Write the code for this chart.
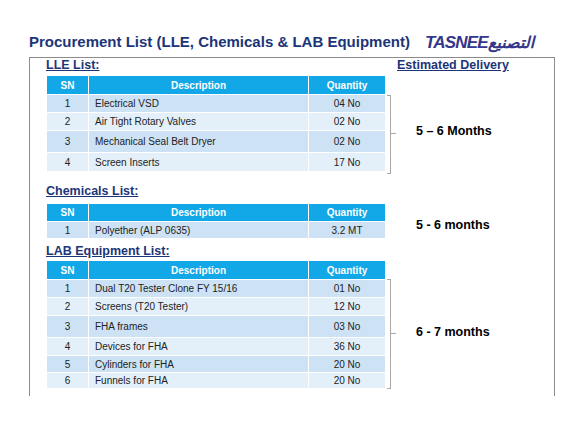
<!DOCTYPE html>
<html><head><meta charset="utf-8">
<script src="https://cdn.jsdelivr.net/npm/chart.js@4"></script>
<style>
body{margin:0;width:587px;height:427px;background:#fff;font-family:"Liberation Sans",Arial,sans-serif;position:relative;overflow:hidden}
.a{position:absolute;white-space:nowrap}
.title{left:29px;top:33px;font-size:15px;font-weight:bold;color:#1c3578}
.logo{left:425px;top:33px;font-size:17px;font-weight:bold;font-style:italic;color:#35358a;letter-spacing:-0.8px}
.frame{left:29px;top:57px;width:524px;height:338px;border:1.5px solid #8c8c8c;border-bottom:none}
.h{font-size:12.5px;font-weight:bold;color:#1c3578;text-decoration:underline}
.del{font-size:12.5px;font-weight:bold;color:#000}
table{position:absolute;border-collapse:collapse;font-size:10px;color:#222}
td,th{padding:0;border:1.5px solid #fff}
th{background:#12a7e6;color:#fff;font-weight:bold;font-size:10px}
.c{text-align:center}
.br{position:absolute;border:1px solid #a8a8a8;border-left:none;width:3px}
.tk{position:absolute;width:5px;border-top:1px solid #a8a8a8}
</style></head><body>
<div class="a title">Procurement List (LLE, Chemicals &amp; LAB Equipment)</div>
<div class="a logo">TASNEE<span style="font-family:'DejaVu Sans';font-size:16px">التصنيع</span></div>
<div class="a frame"></div>
<div class="a h" style="left:46px;top:58px">LLE List:</div>
<div class="a h" style="left:397px;top:58px">Estimated Delivery</div>
<div class="a h" style="left:46px;top:184px">Chemicals List:</div>
<div class="a h" style="left:46px;top:244px">LAB Equipment List:</div>
<div class="a del" style="left:416px;top:124px">5 – 6 Months</div>
<div class="a del" style="left:416px;top:218px">5 - 6 months</div>
<div class="a del" style="left:416px;top:325px">6 - 7 months</div>
<div id="t"></div>
<script>
const lleItems=["Electrical VSD","Air Tight Rotary Valves","Mechanical Seal Belt Dryer","Screen Inserts"];
const lleQty=["04 No","02 No","02 No","17 No"];
const chemItems=["Polyether (ALP 0635)"];
const chemQty=["3.2 MT"];
const labItems=["Dual T20 Tester Clone FY 15/16","Screens (T20 Tester)","FHA frames","Devices for FHA","Cylinders for FHA","Funnels for FHA"];
const labQty=["01 No","12 No","03 No","36 No","20 No","20 No"];
function table(top,items,qty,hh,rh){
  let h='<table style="left:46px;top:'+top+'px;width:340px"><tr style="height:'+hh+'px"><th style="width:41px">SN</th><th style="width:219px">Description</th><th>Quantity</th></tr>';
  items.forEach((it,i)=>{const bg=i%2?'#e3f0fa':'#cde3f5';
    h+='<tr style="height:'+rh[i]+'px;background:'+bg+'"><td class="c">'+(i+1)+'</td><td style="padding-left:6px">'+it+'</td><td class="c">'+qty[i]+'</td></tr>';});
  return h+'</table>';
}
document.getElementById('t').innerHTML=
 table(75,lleItems,lleQty,19,[18,18,22,19])+
 table(203,chemItems,chemQty,18,[17])+
 table(260,labItems,labQty,19,[18,18,22,18,17,16])+
 '<div class="br" style="left:387px;top:95px;height:77px"></div><div class="tk" style="left:391px;top:133px"></div>'+
 '<div class="br" style="left:387px;top:279px;height:108px"></div><div class="tk" style="left:391px;top:333px"></div>';
</script>
</body></html>
